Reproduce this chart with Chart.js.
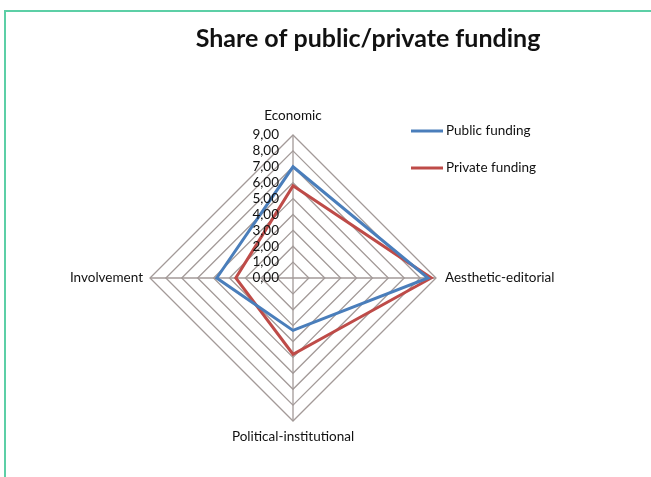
<!DOCTYPE html>
<html>
<head>
<meta charset="utf-8">
<script src="https://cdn.jsdelivr.net/npm/chart.js@4/dist/chart.umd.min.js"></script>
<style>
  html, body { margin: 0; padding: 0; background: #fff; }
  body { width: 651px; height: 477px; position: relative; overflow: hidden; }
  .frame {
    position: absolute; left: 4px; top: 10px; right: -4px; bottom: -4px;
    border-top: 2px solid #5ccfa6; border-left: 2px solid #5ccfa6;
  }
  canvas { position: absolute; left: 0; top: 0; }
</style>
</head>
<body>
<div class="frame"></div>
<canvas id="myChart" width="651" height="477"></canvas>
<script>
const title = 'Share of public/private funding';
const axes = ['Economic', 'Aesthetic-editorial', 'Political-institutional', 'Involvement'];
const publicFunding = [7.0, 8.5, 3.3, 4.8];
const privateFunding = [5.8, 8.7, 4.8, 3.6];
const scaleMax = 9;
const scaleStep = 1;

const FONT = 'Lato, "Open Sans", sans-serif';

// labels around the web, tick values, legend and title
const decorations = {
  id: 'decorations',
  afterDatasetsDraw(chart) {
    const ctx = chart.ctx;
    const r = chart.scales.r;
    ctx.save();
    ctx.fillStyle = '#111';

    // tick values along the top spoke
    ctx.font = '13.5px ' + FONT;
    ctx.textAlign = 'right';
    ctx.textBaseline = 'middle';
    r.ticks.forEach(t => {
      const y = r.yCenter - r.getDistanceFromCenterForValue(t.value);
      ctx.fillText(t.value.toFixed(2).replace('.', ','), r.xCenter - 14, y);
    });

    // axis names
    const gaps = [19, 9, 16, 7];
    const aligns = ['center', 'left', 'center', 'right'];
    axes.forEach((name, i) => {
      const p = r.getPointPosition(i, r.drawingArea + gaps[i]);
      ctx.textAlign = aligns[i];
      ctx.fillText(name, p.x, p.y);
    });

    // legend
    ctx.textAlign = 'left';
    chart.data.datasets.forEach((ds, i) => {
      const y = 131 + i * 37;
      ctx.strokeStyle = ds.borderColor;
      ctx.lineWidth = 3;
      ctx.beginPath();
      ctx.moveTo(411, y);
      ctx.lineTo(443, y);
      ctx.stroke();
      ctx.fillText(ds.label, 446, y);
    });

    // title
    ctx.font = 'bold 25px ' + FONT;
    ctx.textAlign = 'center';
    ctx.fillText(title, 368, 39);
    ctx.restore();
  }
};

const ctx = document.getElementById('myChart').getContext('2d');
const myChart = new Chart(ctx, {
  type: 'radar',
  data: {
    labels: axes,
    datasets: [{
      label: 'Public funding',
      data: publicFunding,
      borderColor: '#4a7ebb',
      backgroundColor: 'transparent',
      borderWidth: 3,
      borderJoinStyle: 'miter',
      fill: false,
      pointRadius: 0
    },
    {
      label: 'Private funding',
      data: privateFunding,
      borderColor: '#be4b48',
      backgroundColor: 'transparent',
      borderWidth: 3,
      borderJoinStyle: 'miter',
      fill: false,
      pointRadius: 0
    }]
  },
  options: {
    responsive: false,
    animation: false,
    devicePixelRatio: 1,
    layout: { padding: { left: 150, right: 215, top: 135, bottom: 56 } },
    plugins: {
      legend: { display: false },
      title: { display: false },
      tooltip: { enabled: false }
    },
    scales: {
      r: {
        min: 0,
        max: scaleMax,
        ticks: { display: false, stepSize: scaleStep },
        pointLabels: { display: false },
        grid: { color: '#a39a98', lineWidth: 1.3 },
        angleLines: { color: '#a39a98', lineWidth: 1.3 }
      }
    }
  },
  plugins: [decorations]
});
</script>
</body>
</html>
